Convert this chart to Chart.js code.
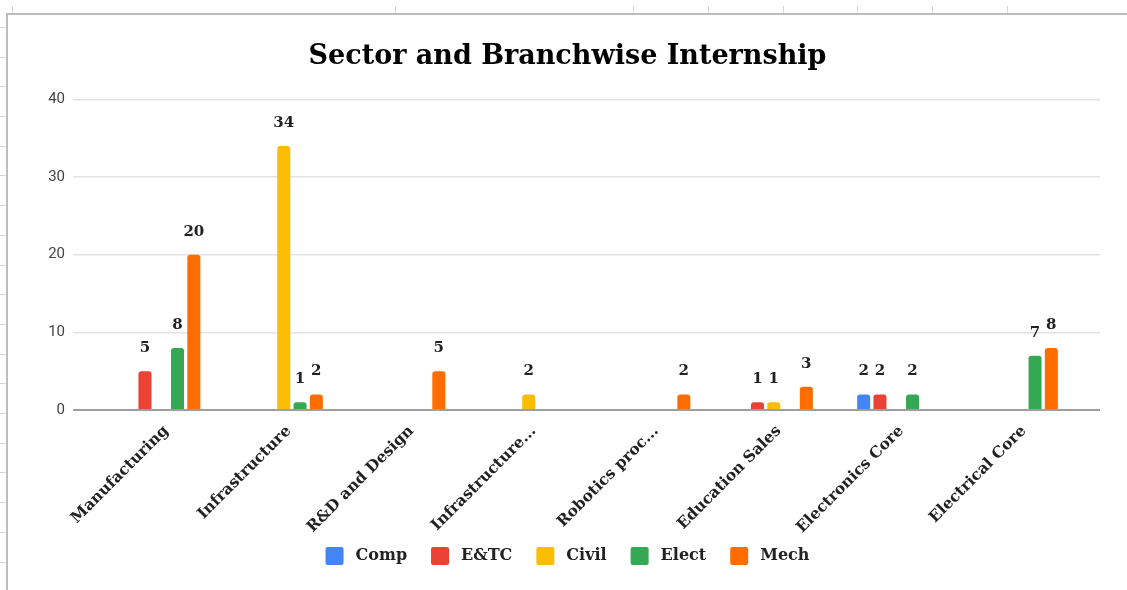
<!DOCTYPE html>
<html>
<head>
<meta charset="utf-8">
<script src="https://cdn.jsdelivr.net/npm/chart.js@4"></script>
<style>
  html, body { margin: 0; padding: 0; background: #fff; }
  body {
    width: 1127px; height: 590px; position: relative; overflow: hidden;
    background-image: repeating-linear-gradient(to bottom, transparent 0, transparent 27px, #d6d6d6 27px, #d6d6d6 28px, transparent 28px, transparent 29.7px);
    background-size: 6px 100%;
    background-repeat: no-repeat;
  }
  #frame {
    position: absolute; left: 6px; top: 13px; right: 0; bottom: 0;
    border-top: 2px solid #bdbdbd; border-left: 2px solid #bdbdbd;
    background: #fff;
  }
  .tick { position: absolute; top: 6px; width: 1px; height: 7px; background: #d6d6d6; }
</style>
</head>
<body>
<div id="frame"><canvas id="myChart" width="1119" height="575"></canvas></div>
<script>
const sectors = ['Manufacturing', 'Infrastructure', 'R&D and Design', 'Infrastructure...', 'Robotics proc...', 'Education Sales', 'Electronics Core', 'Electrical Core'];
const comp  = [null, null, null, null, null, null, 2, null];
const etc   = [5, null, null, null, null, 1, 2, null];
const civil = [null, 34, null, 2, null, 1, null, null];
const elect = [8, 1, null, null, null, null, 2, 7];
const mech  = [20, 2, 5, null, 2, 3, null, 8];
const yTicks = [0, 10, 20, 30, 40];

// spreadsheet column marks above the chart frame
[12, 395, 633, 708, 783, 857, 932, 1007].forEach(x => {
    const t = document.createElement('div');
    t.className = 'tick';
    t.style.left = x + 'px';
    document.body.appendChild(t);
});

const serif = '"DejaVu Serif", "Liberation Serif", serif';

const barValueLabels = {
    id: 'barValueLabels',
    afterDatasetsDraw(chart) {
        const ctx = chart.ctx;
        ctx.save();
        ctx.font = 'bold 15px ' + serif;
        ctx.fillStyle = '#222';
        ctx.textAlign = 'center';
        ctx.textBaseline = 'middle';
        chart.data.datasets.forEach((ds, i) => {
            chart.getDatasetMeta(i).data.forEach((bar, j) => {
                const v = ds.data[j];
                if (v == null) return;
                ctx.fillText(v, bar.x, bar.y - 23);
            });
        });
        ctx.restore();
    }
};

// legend sits a little closer to the rotated axis labels than its padding allows
const liftLegend = {
    id: 'liftLegend',
    afterLayout(chart) {
        chart.legend.top -= 12;
        chart.legend.bottom -= 12;
    }
};

const gridColor = c => (c.tick && c.tick.value === 0) ? '#9e9e9e' : '#e3e3e3';
const gridWidth = c => (c.tick && c.tick.value === 0) ? 2 : 1.5;

const ctx = document.getElementById('myChart').getContext('2d');
new Chart(ctx, {
    type: 'bar',
    data: {
        labels: sectors,
        datasets: [
            { label: 'Comp',  data: comp,  backgroundColor: '#4285F4' },
            { label: 'E&TC',  data: etc,   backgroundColor: '#EA4335' },
            { label: 'Civil', data: civil, backgroundColor: '#FBBC04' },
            { label: 'Elect', data: elect, backgroundColor: '#34A853' },
            { label: 'Mech',  data: mech,  backgroundColor: '#FF6D01' }
        ].map(d => Object.assign(d, { borderWidth: 0, borderRadius: 3, categoryPercentage: 0.665, barPercentage: 0.8 }))
    },
    options: {
        responsive: false,
        animation: false,
        layout: { padding: { left: 27, right: 27, top: 10, bottom: 3 } },
        plugins: {
            title: {
                display: true,
                text: 'Sector and Branchwise Internship',
                color: '#000',
                font: { family: serif, size: 27, weight: 'bold' },
                padding: { top: 16, bottom: 26 }
            },
            legend: {
                position: 'bottom',
                labels: {
                    boxWidth: 18, boxHeight: 18, padding: 24,
                    useBorderRadius: true, borderRadius: 2,
                    color: '#222',
                    font: { family: serif, size: 16, weight: 'bold' },
                    generateLabels: chart => Chart.defaults.plugins.legend.labels.generateLabels(chart)
                        .map(l => Object.assign(l, { text: '\u2005' + l.text }))
                }
            },
            tooltip: { enabled: false }
        },
        scales: {
            x: {
                grid: { display: false },
                border: { display: false },
                ticks: {
                    autoSkip: false, maxRotation: 45, minRotation: 45, padding: 4, labelOffset: 5,
                    color: '#222',
                    font: { family: serif, size: 15.5, weight: 'bold' }
                },
                afterFit: s => { s.height = 125; }
            },
            y: {
                min: 0, max: 40,
                afterBuildTicks: s => { s.ticks = yTicks.map(v => ({ value: v })); },
                ticks: { padding: 8, color: '#444', font: { family: 'Roboto, Arial, sans-serif', size: 15 } },
                grid: { color: gridColor, tickColor: gridColor, lineWidth: gridWidth, tickLength: 27 },
                border: { display: false },
                afterFit: s => { s.width = 65; }
            },
            y2: {
                type: 'linear',
                position: 'right',
                min: 0, max: 40,
                afterBuildTicks: s => { s.ticks = yTicks.map(v => ({ value: v })); },
                ticks: { display: false },
                grid: { drawOnChartArea: false, color: gridColor, tickColor: gridColor, lineWidth: gridWidth, tickLength: 20 },
                border: { display: false },
                afterFit: s => { s.width = 20; }
            }
        }
    },
    plugins: [barValueLabels, liftLegend]
});
</script>
</body>
</html>
